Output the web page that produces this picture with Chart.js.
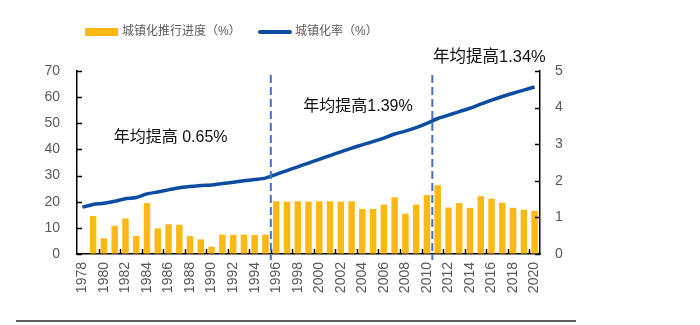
<!DOCTYPE html>
<html>
<head>
<meta charset="utf-8">
<script src="https://cdn.jsdelivr.net/npm/chart.js@4/dist/chart.umd.min.js"></script>
<style>
    html, body { margin: 0; padding: 0; background: #fff; }
    #wrap { position: relative; width: 700px; height: 325px; }
    #chart { position: absolute; left: 0; top: 0; }
    .legend { position: absolute; top: 22px; font: 12px "Liberation Sans", "Noto Sans CJK SC", sans-serif; color: #595959; line-height: 18px; white-space: nowrap; }
    .legend .box { position: absolute; top: 6px; width: 33px; height: 8px; background: #FDB813; }
    .legend .ln { position: absolute; top: 8px; width: 34px; height: 4px; background: #0D4DA1; border-radius: 2px; }
    .rule { position: absolute; left: 16px; top: 320px; width: 560px; height: 2px; background: #595959; }
</style>
</head>
<body>
<div id="wrap">
    <canvas id="chart" width="700" height="325"></canvas>
    <div class="legend" style="left:85px"><span class="box"></span><span style="margin-left:37px">城镇化推行进度（%）</span></div>
    <div class="legend" style="left:258px"><span class="ln"></span><span style="margin-left:37px">城镇化率（%）</span></div>
    <div class="rule"></div>
</div>
<script>
// Urbanization: yearly progress (bars, right axis) and rate (line, left axis)

const years = ['1978', '1979', '1980', '1981', '1982', '1983', '1984', '1985', '1986', '1987',
    '1988', '1989', '1990', '1991', '1992', '1993', '1994', '1995', '1996', '1997',
    '1998', '1999', '2000', '2001', '2002', '2003', '2004', '2005', '2006', '2007',
    '2008', '2009', '2010', '2011', '2012', '2013', '2014', '2015', '2016', '2017',
    '2018', '2019', '2020'];

const urbanRate = [17.92, 18.96, 19.39, 20.16, 21.13, 21.62, 23.01, 23.71, 24.52, 25.32,
    25.81, 26.21, 26.41, 26.94, 27.46, 27.99, 28.51, 29.04, 30.48, 31.91,
    33.35, 34.78, 36.22, 37.66, 39.09, 40.53, 41.76, 42.99, 44.34, 45.89,
    46.99, 48.34, 49.95, 51.83, 53.10, 54.49, 55.75, 57.33, 58.84, 60.24,
    61.50, 62.71, 63.89];

const urbanProgress = [null, 1.04, 0.43, 0.77, 0.97, 0.49, 1.39, 0.70, 0.81, 0.80,
    0.49, 0.40, 0.20, 0.53, 0.52, 0.53, 0.52, 0.53, 1.44, 1.43,
    1.44, 1.43, 1.44, 1.44, 1.43, 1.44, 1.23, 1.23, 1.35, 1.55,
    1.10, 1.35, 1.61, 1.88, 1.27, 1.39, 1.26, 1.58, 1.51, 1.40,
    1.26, 1.21, 1.18];

const leftTicks = [0, 10, 20, 30, 40, 50, 60, 70];
const rightTicks = [0, 1, 2, 3, 4, 5];

// period dividers, between 1995/1996 and 2010/2011 (category index units)
const dividers = [17.5, 32.5];

const periodNotes = ['年均提高 0.65%', '年均提高1.39%', '年均提高1.34%'];
const notePlace = [{ x: 8.2, y: 44.5 }, { x: 25.6, y: 56.3 }, { x: 37.8, y: 75 }];

const FONT = '"Liberation Sans", "Noto Sans CJK SC", sans-serif';
const GREY = '#595959';

const overlay = {
    id: 'overlay',
    afterDatasetsDraw(chart) {
        const { ctx, scales: { x, y, y1 }, chartArea } = chart;
        ctx.save();

        // inside tick marks
        ctx.strokeStyle = '#000';
        ctx.lineWidth = 1.5;
        ctx.beginPath();
        leftTicks.forEach(v => {
            const py = Math.round(y.getPixelForValue(v)) + 0.5;
            ctx.moveTo(chartArea.left, py);
            ctx.lineTo(chartArea.left + 5, py);
        });
        rightTicks.forEach(v => {
            const py = Math.round(y1.getPixelForValue(v)) + 0.5;
            ctx.moveTo(chartArea.right, py);
            ctx.lineTo(chartArea.right - 5, py);
        });
        for (let i = 1; i < years.length - 1; i += 2) {
            const px = Math.round(x.getPixelForValue(i + 0.5)) + 0.5;
            ctx.moveTo(px, chartArea.bottom);
            ctx.lineTo(px, chartArea.bottom - 5);
        }
        ctx.stroke();

        // dashed period dividers
        ctx.strokeStyle = '#4472C4';
        ctx.lineWidth = 2;
        ctx.setLineDash([8, 4]);
        dividers.forEach(d => {
            const px = x.getPixelForValue(d);
            ctx.beginPath();
            ctx.moveTo(px, chartArea.top + 4);
            ctx.lineTo(px, chartArea.bottom + 6);
            ctx.stroke();
        });
        ctx.setLineDash([]);

        // period notes
        ctx.fillStyle = '#111';
        ctx.font = '16px ' + FONT;
        ctx.textAlign = 'center';
        ctx.textBaseline = 'middle';
        periodNotes.forEach((t, i) => {
            ctx.font = (i === 2 ? '16.5px ' : '16px ') + FONT;
            ctx.fillText(t, x.getPixelForValue(notePlace[i].x), y.getPixelForValue(notePlace[i].y));
        });
        ctx.restore();
    }
};

const axisBorder = { display: true, color: '#000', width: 1.5 };
const noGrid = { display: true, drawOnChartArea: false, drawTicks: false };

new Chart(document.getElementById('chart'), {
    data: {
        labels: years,
        datasets: [
            {
                type: 'line',
                label: '城镇化率（%）',
                data: urbanRate,
                yAxisID: 'y',
                borderColor: '#0D4DA1',
                borderWidth: 3.5,
                pointRadius: 0,
                tension: 0.25,
                order: 0
            },
            {
                type: 'bar',
                label: '城镇化推行进度（%）',
                data: urbanProgress,
                yAxisID: 'y1',
                backgroundColor: '#FDB813',
                categoryPercentage: 1,
                barPercentage: 0.6,
                order: 1
            }
        ]
    },
    options: {
        responsive: false,
        animation: false,
        layout: { padding: { top: 71, left: 0, right: 0, bottom: 0 } },
        plugins: { legend: { display: false }, tooltip: { enabled: false } },
        scales: {
            x: {
                offset: true,
                grid: noGrid,
                border: axisBorder,
                ticks: {
                    autoSkip: false,
                    maxRotation: 90,
                    minRotation: 90,
                    padding: 8,
                    color: GREY,
                    font: { size: 14, family: FONT },
                    callback: (v, i) => i % 2 === 0 ? years[i] : ''
                },
                afterFit: s => { s.height = 71; }
            },
            y: {
                position: 'left',
                min: 0,
                max: 70,
                grid: noGrid,
                border: axisBorder,
                ticks: { stepSize: 10, padding: 17, color: GREY, font: { size: 14, family: FONT } },
                afterFit: s => { s.width = 77; }
            },
            y1: {
                position: 'right',
                min: 0,
                max: 5,
                grid: noGrid,
                border: axisBorder,
                ticks: { stepSize: 1, padding: 15, color: GREY, font: { size: 14, family: FONT } },
                afterFit: s => { s.width = 160; }
            }
        }
    },
    plugins: [overlay]
});
</script>
</body>
</html>
